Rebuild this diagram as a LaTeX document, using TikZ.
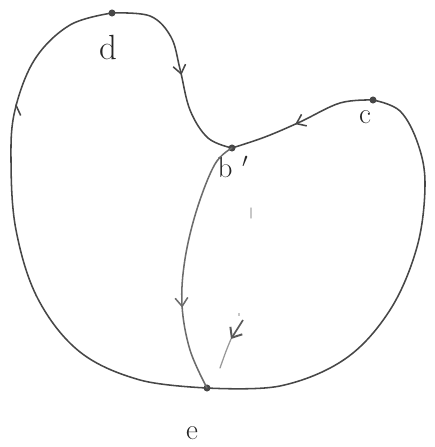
\documentclass[tikz,border=0pt]{standalone}
\usepackage{tikz}
\usetikzlibrary{arrows.meta,decorations.markings}
\colorlet{pencil}{black!72}
\colorlet{faintpencil}{black!22}

\tikzset{
  curve/.style={pencil,line width=1.1pt,line cap=round},
  flowarrow/.style={postaction={decorate,decoration={markings,
      mark=at position #1 with {\arrow{Straight Barb[length=6pt,width=9pt,line width=1.1pt]}}}}},
  spot/.style={circle,fill=pencil,inner sep=0pt,minimum size=5pt},
  letter/.style={font=\huge,text=black!85}
}

\begin{document}
\begin{tikzpicture}[x=0.025cm,y=0.025cm]

      \useasboundingbox (0,0) rectangle (434,447);

      % the four marked points
      \node[spot] (d) at (112,434) {};
      \node[spot] (c) at (373,347) {};
      \node[spot] (bp) at (232,299) {};
      \node[spot] (e) at (207,59) {};

      \node[letter,font=\Huge] (dlab) at (108,399) {d};
      \node[letter] (clab) at (365,330) {c};
      \node[letter] (bplab) at (233,280) {b\,\,$'$};
      \node[letter] (elab) at (192,14) {e};

      % d to b'
      \draw[curve,flowarrow=0.53] plot[smooth,tension=0.6] coordinates
        {(d.center) (150,431) (171,410) (180,378) (190,337) (208,309) (bp.center)};

      % c to b'
      \draw[curve,flowarrow=0.55] plot[smooth,tension=0.6] coordinates
        {(c.center) (340,344) (300,325) (265,310) (bp.center)};

      % right side, c round to e
      \draw[curve] plot[smooth,tension=0.6] coordinates
        {(c.center) (400,336) (418,303) (425,262) (417,200) (390,137) (345,88) (280,61) (e.center)};

      % left side, e up to d
      \draw[curve,postaction={decorate,decoration={markings,
          mark=at position 0.74 with {\arrow{Straight Barb[harpoon,swap,length=6pt,width=10pt,line width=1.1pt]}}}}]
        plot[smooth,tension=0.6] coordinates
        {(e.center) (140,67) (80,95) (38,148) (16,217) (11,287) (15,337) (35,388) (70,422) (d.center)};

      % b' down to e
      \draw[curve,pencil!80,flowarrow=0.67] plot[smooth,tension=0.6] coordinates
        {(bp.center) (215,283) (197,238) (185,188) (182,142) (190,97) (e.center)};

      % faint rubbed-out stroke
      \coordinate (ftop) at (243,127);
      \coordinate (ftip) at (231,108);
      \coordinate (fend) at (220,79);
      \draw[faintpencil,line width=1pt,line cap=round] (251,239) -- (251,229);
      \draw[faintpencil,line width=0.8pt] (239,134) -- (239,131);
      \draw[black!65,line width=1.2pt,-{Straight Barb[length=6pt,width=10pt,line width=1.4pt]}] (ftop) -- (ftip);
      \draw[black!40,line width=0.9pt,line cap=round] (ftip) .. controls (226,96) .. (fend);

\end{tikzpicture}
\end{document}
